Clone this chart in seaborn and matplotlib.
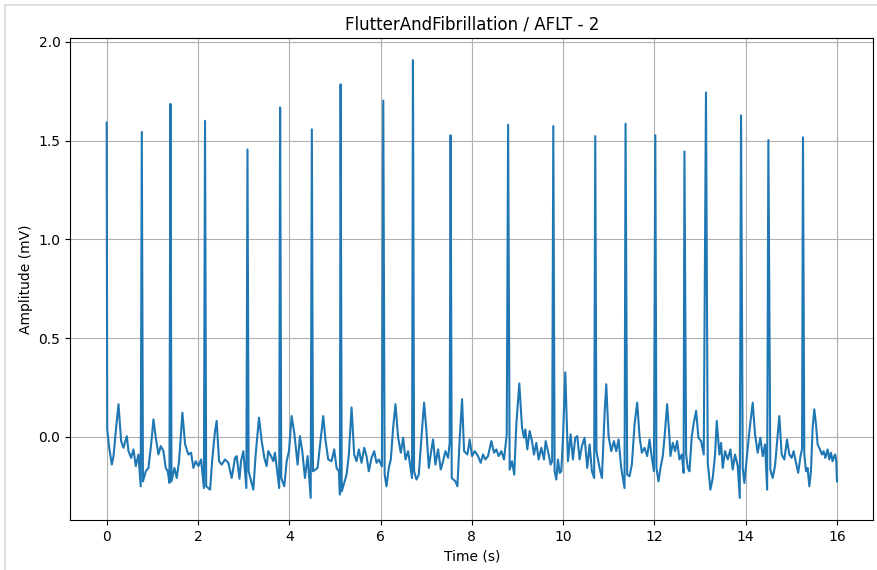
import matplotlib
matplotlib.use("Agg")
import matplotlib.pyplot as plt
import seaborn as sns
import pandas as pd
from matplotlib.lines import Line2D

# ECG trace, vertices in seconds / mV
time_s = [
    0.0, 0.012, 0.055, 0.113, 0.15, 0.20, 0.259, 0.317, 0.368, 0.441, 0.478, 0.536, 0.587, 0.638, 0.696,
    0.745, 0.77, 0.795, 0.857, 0.915, 0.974, 1.025, 1.076, 1.134, 1.185, 1.244, 1.294, 1.338, 1.375,
    1.397, 1.42, 1.484, 1.535, 1.586, 1.659, 1.718, 1.79, 1.849, 1.90, 1.951, 2.01, 2.068, 2.13,
    2.155, 2.18, 2.265, 2.316, 2.374, 2.41, 2.462, 2.52, 2.593, 2.666, 2.739, 2.812, 2.848, 2.91,
    2.943, 2.994, 3.06, 3.085, 3.11, 3.213, 3.264, 3.337, 3.396, 3.454, 3.505, 3.541, 3.60, 3.651,
    3.687, 3.746, 3.78, 3.80, 3.825, 3.891, 3.943, 3.994, 4.052, 4.11, 4.183, 4.234, 4.285, 4.344,
    4.402, 4.47, 4.495, 4.52, 4.621, 4.672, 4.745, 4.796, 4.854, 4.927, 4.985, 5.037, 5.088, 5.11,
    5.125, 5.15, 5.256, 5.306, 5.365, 5.423, 5.474, 5.525, 5.584, 5.642, 5.693, 5.744, 5.803, 5.861,
    5.912, 5.963, 6.03, 6.06, 6.09, 6.13, 6.181, 6.225, 6.276, 6.327, 6.386, 6.444, 6.495, 6.546,
    6.604, 6.69, 6.71, 6.735, 6.787, 6.838, 6.896, 6.954, 7.006, 7.057, 7.115, 7.151, 7.202, 7.261,
    7.319, 7.37, 7.421, 7.48, 7.515, 7.535, 7.56, 7.64, 7.684, 7.735, 7.786, 7.83, 7.903, 7.954,
    8.005, 8.063, 8.136, 8.194, 8.246, 8.297, 8.355, 8.428, 8.486, 8.537, 8.588, 8.647, 8.705, 8.765,
    8.795, 8.829, 8.88, 8.93, 8.975, 9.04, 9.1, 9.143, 9.172, 9.216, 9.267, 9.318, 9.362, 9.413,
    9.464, 9.523, 9.581, 9.617, 9.668, 9.727, 9.76, 9.785, 9.814, 9.851, 9.887, 9.924, 9.96, 9.997,
    10.048, 10.106, 10.164, 10.215, 10.266, 10.31, 10.361, 10.412, 10.471, 10.529, 10.58, 10.631, 10.68,
    10.704, 10.73, 10.799, 10.85, 10.908, 10.945, 10.996, 11.054, 11.113, 11.164, 11.215, 11.273, 11.346,
    11.368, 11.404, 11.455, 11.506, 11.565, 11.623, 11.674, 11.725, 11.784, 11.842, 11.893, 11.944, 11.99,
    12.02, 12.045, 12.09, 12.133, 12.184, 12.221, 12.279, 12.33, 12.352, 12.403, 12.454, 12.498, 12.549,
    12.6, 12.64, 12.658, 12.695, 12.731, 12.768, 12.819, 12.863, 12.914, 12.965, 13.023, 13.081, 13.13,
    13.169, 13.227, 13.278, 13.329, 13.366, 13.424, 13.461, 13.497, 13.548, 13.607, 13.665, 13.716, 13.767,
    13.826, 13.87, 13.898, 13.935, 13.971, 14.03, 14.081, 14.154, 14.205, 14.263, 14.321, 14.373, 14.424,
    14.47, 14.497, 14.54, 14.591, 14.642, 14.686, 14.737, 14.788, 14.847, 14.905, 14.956, 15.007, 15.051,
    15.102, 15.15, 15.20, 15.235, 15.255, 15.284, 15.321, 15.357, 15.394, 15.43, 15.467, 15.503, 15.54,
    15.576, 15.627, 15.671, 15.707, 15.744, 15.795, 15.831, 15.868, 15.904, 15.941, 15.96, 15.985, 16.0,
]
amp_mv = [
    1.591, 0.037, -0.056, -0.141, -0.098, 0.029, 0.165, -0.022, -0.056, 0.003, -0.073, -0.107, -0.064, -0.149, -0.09,
    -0.251, 1.544, -0.226, -0.175, -0.158, -0.039, 0.088, -0.005, -0.09, -0.047, -0.073, -0.158, -0.175, -0.234,
    1.686, -0.226, -0.158, -0.209, -0.124, 0.122, -0.039, -0.09, -0.081, -0.158, -0.124, -0.149, -0.115, -0.26,
    1.60, -0.251, -0.268, -0.107, 0.029, 0.08, -0.124, -0.141, -0.115, -0.132, -0.209, -0.107, -0.098, -0.213,
    -0.124, -0.073, -0.26, 1.455, -0.175, -0.268, -0.09, 0.097, -0.022, -0.107, -0.149, -0.073, -0.098, -0.124,
    -0.081, -0.192, -0.26, 1.668, -0.209, -0.251, -0.124, -0.073, 0.105, 0.02, -0.141, 0.003, -0.073, -0.209,
    -0.098, -0.31, 1.557, -0.175, -0.158, -0.047, 0.105, -0.022, -0.115, -0.124, -0.064, -0.158, -0.175, -0.293,
    1.785, -0.277, -0.192, -0.09, 0.148, -0.09, -0.124, -0.064, -0.132, -0.056, -0.098, -0.175, -0.107, -0.073,
    -0.132, -0.115, -0.15, 1.703, -0.19, -0.251, -0.158, -0.115, 0.046, 0.165, -0.005, -0.081, -0.005, -0.115,
    -0.073, -0.209, 1.908, -0.175, -0.217, -0.192, -0.005, 0.173, 0.029, -0.158, -0.064, -0.014, -0.141, -0.064,
    -0.166, -0.124, -0.073, -0.107, -0.031, 1.527, -0.209, -0.226, -0.251, -0.005, 0.19, -0.073, -0.09, -0.014,
    -0.098, -0.073, -0.098, -0.132, -0.09, -0.115, -0.098, -0.022, -0.081, -0.064, -0.098, -0.073, -0.115, 0.012,
    1.581, -0.166, -0.124, -0.192, 0.063, 0.27, 0.046, -0.005, 0.037, -0.064, 0.029, -0.022, -0.09, -0.031,
    -0.115, -0.056, -0.115, -0.022, -0.073, -0.141, -0.124, 1.574, -0.175, -0.217, -0.115, -0.183, -0.175, -0.005,
    0.326, -0.124, 0.012, -0.115, -0.005, 0.003, -0.115, -0.047, -0.005, -0.158, -0.039, -0.175, -0.209,
    1.523, -0.073, -0.158, -0.209, 0.114, 0.266, 0.003, -0.073, -0.022, -0.073, -0.014, -0.158, -0.26,
    1.586, -0.192, -0.2, -0.141, 0.063, 0.173, 0.003, -0.081, -0.056, -0.098, -0.014, -0.107, -0.175,
    1.527, -0.158, -0.226, -0.158, -0.098, -0.005, 0.165, -0.005, -0.098, -0.031, -0.073, -0.022, -0.115,
    -0.09, -0.183, 1.445, -0.09, -0.158, -0.175, 0.003, 0.071, 0.131, -0.005, -0.022, -0.09, 1.744,
    -0.132, -0.268, -0.209, -0.09, 0.08, -0.09, -0.031, -0.158, -0.073, -0.115, -0.064, -0.166, -0.09,
    -0.149, -0.31, 1.628, -0.158, -0.234, -0.09, 0.029, 0.173, 0.012, -0.081, -0.005, -0.098, -0.039,
    -0.268, 1.503, -0.166, -0.209, -0.149, -0.031, 0.105, -0.09, -0.115, -0.014, -0.09, -0.107, -0.073,
    -0.132, -0.183, -0.10, -0.06, 1.517, -0.09, -0.175, -0.158, -0.251, -0.175, 0.046, 0.139, 0.063,
    -0.039, -0.064, -0.09, -0.073, -0.107, -0.064, -0.115, -0.081, -0.124, -0.098, -0.09, -0.124, -0.226,
]

df = pd.DataFrame({"Time": time_s, "Amplitude": amp_mv})

fig = plt.figure(figsize=(8.77, 5.70), dpi=100)
ax = fig.add_axes([0.080, 0.088, 0.916, 0.845])

sns.lineplot(data=df, x="Time", y="Amplitude", ax=ax, color="#1f77b4",
             linewidth=1.5, sort=False, estimator=None)

ax.set_title("FlutterAndFibrillation / AFLT - 2", fontsize=12)
ax.set_xlabel("Time (s)")
ax.set_ylabel("Amplitude (mV)")
ax.set_xticks(range(0, 17, 2))
ax.grid(True)

# light frame of the notebook output cell
fig.add_artist(Line2D([0.006, 0.006], [0.0, 0.991], color="#d9d9d9", lw=1.2))
fig.add_artist(Line2D([0.006, 1.0], [0.991, 0.991], color="#d9d9d9", lw=1.2))

plt.savefig("out.png", dpi=100)
